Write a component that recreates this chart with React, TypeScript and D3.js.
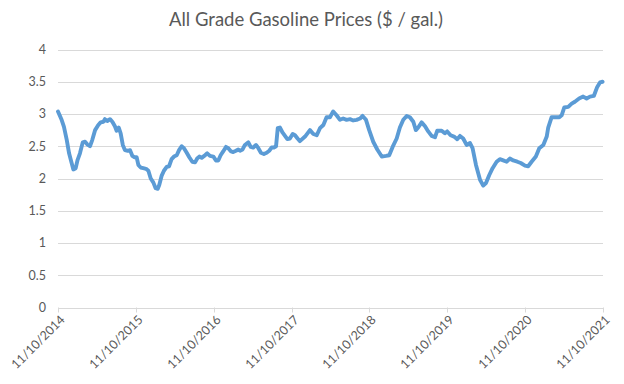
import React from "react";
import * as d3 from "d3";

const title = "All Grade Gasoline Prices ($ / gal.)";
const yTicks = [0, 0.5, 1, 1.5, 2, 2.5, 3, 3.5, 4];
const xTickDates = ["2014-11-10", "2015-11-10", "2016-11-10", "2017-11-10", "2018-11-10", "2019-11-10", "2020-11-10", "2021-11-10"];
const xTickLabels = ["11/10/2014", "11/10/2015", "11/10/2016", "11/10/2017", "11/10/2018", "11/10/2019", "11/10/2020", "11/10/2021"];

const dates = [
  "2014-11-10", "2014-11-27", "2014-12-08", "2014-12-21", "2015-01-01", "2015-01-13", "2015-01-21", "2015-02-01",
  "2015-02-10", "2015-02-21", "2015-03-06", "2015-03-17", "2015-03-27", "2015-04-09", "2015-04-20", "2015-05-03",
  "2015-05-18", "2015-05-29", "2015-06-11", "2015-06-18", "2015-06-29", "2015-07-12", "2015-07-23", "2015-08-04",
  "2015-08-12", "2015-08-22", "2015-08-31", "2015-09-10", "2015-09-20", "2015-10-03", "2015-10-14", "2015-10-25",
  "2015-11-03", "2015-11-14", "2015-11-22", "2015-12-03", "2015-12-15", "2015-12-28", "2016-01-08", "2016-01-19",
  "2016-01-31", "2016-02-11", "2016-02-21", "2016-02-28", "2016-03-10", "2016-03-21", "2016-04-03", "2016-04-14",
  "2016-04-26", "2016-05-07", "2016-05-20", "2016-05-31", "2016-06-12", "2016-06-23", "2016-07-06", "2016-07-18",
  "2016-08-01", "2016-08-14", "2016-08-24", "2016-09-03", "2016-09-14", "2016-09-26", "2016-10-10", "2016-10-23",
  "2016-11-08", "2016-11-20", "2016-12-01", "2016-12-12", "2016-12-24", "2017-01-06", "2017-01-17", "2017-01-30",
  "2017-02-09", "2017-02-22", "2017-03-05", "2017-03-13", "2017-03-25", "2017-04-05", "2017-04-21", "2017-05-02",
  "2017-05-14", "2017-05-27", "2017-06-07", "2017-06-19", "2017-07-03", "2017-07-16", "2017-07-28", "2017-08-08",
  "2017-08-19", "2017-08-29", "2017-09-06", "2017-09-16", "2017-09-29", "2017-10-10", "2017-10-21", "2017-11-02",
  "2017-11-15", "2017-11-26", "2017-12-08", "2017-12-19", "2018-01-12", "2018-02-04", "2018-02-20", "2018-03-08",
  "2018-03-23", "2018-04-08", "2018-04-23", "2018-05-09", "2018-05-24", "2018-06-09", "2018-06-25", "2018-07-10",
  "2018-07-26", "2018-08-11", "2018-08-26", "2018-09-11", "2018-09-27", "2018-10-09", "2018-10-25", "2018-11-09",
  "2018-11-28", "2018-12-17", "2019-01-07", "2019-01-27", "2019-02-11", "2019-02-27", "2019-03-18", "2019-04-02",
  "2019-04-18", "2019-05-04", "2019-05-19", "2019-06-04", "2019-06-16", "2019-06-27", "2019-07-13", "2019-07-29",
  "2019-08-13", "2019-08-29", "2019-09-14", "2019-09-24", "2019-10-15", "2019-10-30", "2019-11-10", "2019-11-26",
  "2019-12-12", "2019-12-27", "2020-01-09", "2020-01-24", "2020-02-09", "2020-02-25", "2020-03-08", "2020-03-24",
  "2020-04-12", "2020-04-27", "2020-05-10", "2020-05-25", "2020-06-10", "2020-06-29", "2020-07-14", "2020-07-30",
  "2020-08-15", "2020-08-30", "2020-09-15", "2020-10-04", "2020-10-20", "2020-11-09", "2020-11-24", "2020-12-10",
  "2020-12-30", "2021-01-15", "2021-02-03", "2021-02-19", "2021-02-26", "2021-03-14", "2021-03-29", "2021-04-19",
  "2021-04-30", "2021-05-12", "2021-05-31", "2021-06-16", "2021-07-01", "2021-07-21", "2021-08-09", "2021-08-25",
  "2021-09-10", "2021-09-28", "2021-10-14", "2021-10-27", "2021-11-08",
];

const prices = [
  3.04, 2.91, 2.80, 2.60, 2.39, 2.24, 2.14, 2.16,
  2.29, 2.39, 2.56, 2.57, 2.53, 2.50, 2.60, 2.75,
  2.83, 2.87, 2.88, 2.92, 2.89, 2.92, 2.88, 2.81,
  2.74, 2.79, 2.70, 2.52, 2.44, 2.43, 2.44, 2.35,
  2.33, 2.33, 2.21, 2.17, 2.16, 2.15, 2.12, 2.00,
  1.94, 1.85, 1.84, 1.90, 2.04, 2.12, 2.18, 2.19,
  2.30, 2.34, 2.36, 2.44, 2.50, 2.47, 2.40, 2.33,
  2.26, 2.25, 2.31, 2.34, 2.32, 2.35, 2.39, 2.35,
  2.34, 2.28, 2.28, 2.36, 2.42, 2.49, 2.47, 2.42,
  2.41, 2.43, 2.45, 2.43, 2.45, 2.52, 2.56, 2.49,
  2.48, 2.52, 2.47, 2.40, 2.38, 2.40, 2.43, 2.48,
  2.48, 2.50, 2.78, 2.79, 2.71, 2.66, 2.61, 2.62,
  2.69, 2.67, 2.62, 2.58, 2.65, 2.75, 2.69, 2.67,
  2.78, 2.83, 2.95, 2.95, 3.04, 2.98, 2.91, 2.93,
  2.91, 2.92, 2.90, 2.91, 2.93, 2.97, 2.91, 2.75,
  2.57, 2.45, 2.34, 2.35, 2.36, 2.49, 2.62, 2.79,
  2.91, 2.97, 2.95, 2.88, 2.75, 2.79, 2.87, 2.81,
  2.73, 2.66, 2.64, 2.74, 2.74, 2.70, 2.73, 2.67,
  2.65, 2.61, 2.66, 2.62, 2.52, 2.55, 2.47, 2.21,
  1.98, 1.89, 1.93, 2.05, 2.16, 2.26, 2.30, 2.28,
  2.26, 2.31, 2.28, 2.26, 2.24, 2.20, 2.19, 2.26,
  2.34, 2.47, 2.52, 2.65, 2.79, 2.95, 2.95, 2.95,
  2.98, 3.10, 3.11, 3.16, 3.19, 3.24, 3.27, 3.24,
  3.27, 3.28, 3.42, 3.49, 3.50,
];

const W = 624;
const H = 384;
const margin = { left: 58, right: 21, top: 49.5, bottom: 76.5 };

export default function App() {
  const parse = d3.timeParse("%Y-%m-%d");
  const data = dates.map((d, i) => ({ date: parse(d) as Date, value: prices[i] }));
  const x = d3
    .scaleTime()
    .domain([parse(xTickDates[0]) as Date, parse(xTickDates[xTickDates.length - 1]) as Date])
    .range([margin.left, W - margin.right]);
  const y = d3.scaleLinear().domain([0, 4]).range([H - margin.bottom, margin.top]);
  const line = d3
    .line<{ date: Date; value: number }>()
    .x((d) => x(d.date))
    .y((d) => y(d.value))
    .curve(d3.curveLinear);

  const textColor = "#595959";
  const font = "Lato, 'Open Sans', sans-serif";
  const y0 = y(0);

  return (
    <svg
      width={W}
      height={H}
      style={{ position: "absolute", left: 0, top: 0, background: "#fff" }}
    >
      <text
        x={306}
        y={26}
        textAnchor="middle"
        fontFamily={font}
        fontSize={18.5}
        fill={textColor}
      >
        {title}
      </text>
      {yTicks.map((t) => (
        <g key={t}>
          <line
            x1={margin.left}
            x2={W - margin.right}
            y1={Math.round(y(t)) + 0.5}
            y2={Math.round(y(t)) + 0.5}
            stroke="#D9D9D9"
            strokeWidth={1}
          />
          <text
            x={46}
            y={y(t)}
            dy="0.35em"
            textAnchor="end"
            fontFamily={font}
            fontSize={12.5}
            fill={textColor}
          >
            {String(t)}
          </text>
        </g>
      ))}
      {xTickDates.map((d, i) => {
        const xp = Math.round(x(parse(d) as Date)) + 0.5;
        return (
          <g key={d}>
            <line x1={xp} x2={xp} y1={y0} y2={y0 + 5} stroke="#D9D9D9" strokeWidth={1} />
            <text
              transform={`translate(${xp + 4},${y0 + 10}) rotate(-45)`}
              textAnchor="end"
              dy="0.35em"
              fontFamily={font}
              fontSize={12.5}
              fill={textColor}
            >
              {xTickLabels[i]}
            </text>
          </g>
        );
      })}
      <path
        d={line(data) || ""}
        fill="none"
        stroke="#5B9BD5"
        strokeWidth={3.9}
        strokeLinejoin="round"
        strokeLinecap="round"
      />
    </svg>
  );
}
